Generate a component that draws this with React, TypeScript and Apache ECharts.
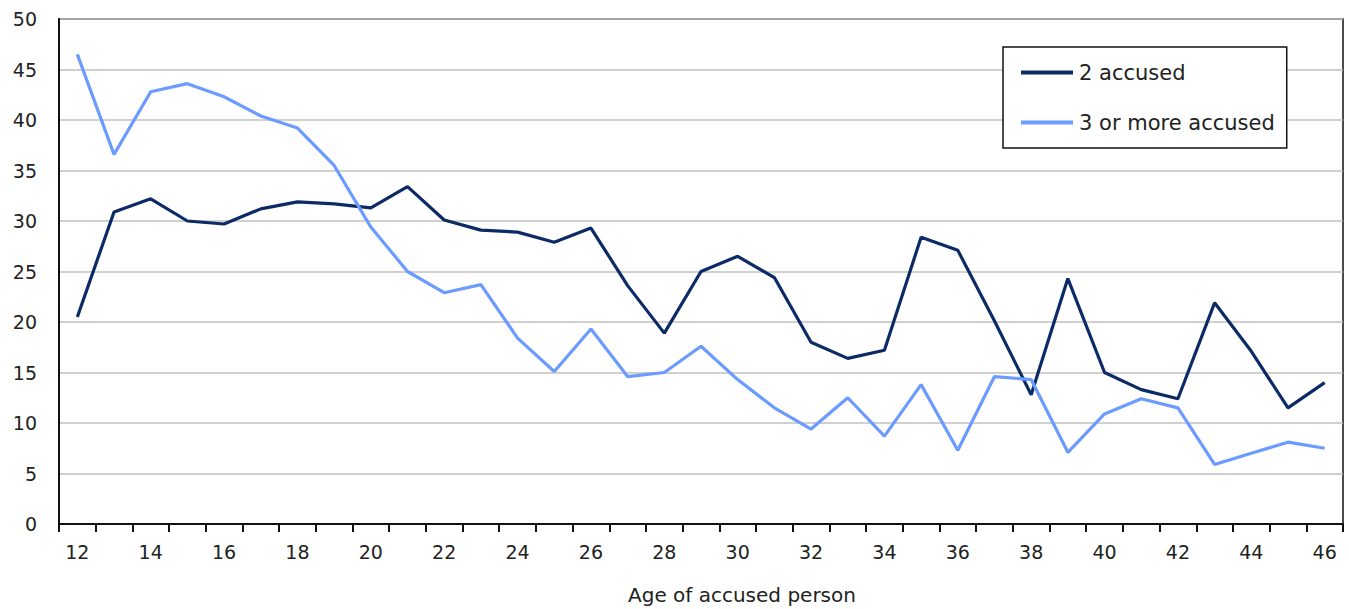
import React, { useEffect, useRef } from "react";
import * as echarts from "echarts";

const ages: string[] = [
  "12","13","14","15","16","17","18","19","20","21","22","23","24","25","26","27","28",
  "29","30","31","32","33","34","35","36","37","38","39","40","41","42","43","44","45","46",
];

const twoAccused: number[] = [
  20.5, 30.9, 32.2, 30.0, 29.7, 31.2, 31.9, 31.7, 31.3, 33.4, 30.1, 29.1, 28.9, 27.9, 29.3,
  23.6, 18.9, 25.0, 26.5, 24.4, 18.0, 16.4, 17.2, 28.4, 27.1, 20.1, 12.8, 24.3, 15.0, 13.3,
  12.4, 21.9, 17.1, 11.5, 14.0,
];

const threeOrMore: number[] = [
  46.5, 36.6, 42.8, 43.6, 42.3, 40.4, 39.2, 35.5, 29.4, 25.0, 22.9, 23.7, 18.4, 15.1, 19.3,
  14.6, 15.0, 17.6, 14.3, 11.5, 9.4, 12.5, 8.7, 13.8, 7.3, 14.6, 14.3, 7.1, 10.9, 12.4,
  11.5, 5.9, 7.0, 8.1, 7.5,
];

const seriesNames: string[] = ["2 accused", "3 or more accused"];
const xAxisTitle = "Age of accused person";

const FONT = "'DejaVu Sans', Verdana, sans-serif";
const TEXT = "#222222";

export default function App() {
  const ref = useRef<HTMLDivElement>(null);

  useEffect(() => {
    if (!ref.current) return;
    const chart = echarts.init(ref.current, undefined, { renderer: "svg" });
    chart.setOption({
      animation: false,
      backgroundColor: "#ffffff",
      textStyle: { fontFamily: FONT, color: TEXT },
      grid: {
        left: 59,
        right: 6,
        top: 19,
        bottom: 85,
        show: true,
        borderColor: "#111111",
        borderWidth: 1.5,
        backgroundColor: "transparent",
      },
      legend: {
        show: true,
        orient: "vertical",
        left: 1003,
        top: 47,
        padding: [15, 12, 15, 18],
        itemGap: 29,
        itemWidth: 52,
        itemHeight: 4,
        icon: "rect",
        borderColor: "#111111",
        borderWidth: 1.5,
        backgroundColor: "#ffffff",
        textStyle: { fontFamily: FONT, fontSize: 21, color: TEXT, padding: [0, 0, 0, 1] },
        data: seriesNames,
      },
      xAxis: {
        type: "category",
        data: ages,
        boundaryGap: true,
        axisLine: { show: true, lineStyle: { color: "#111111", width: 2 } },
        axisTick: { show: true, interval: 0, length: 8, lineStyle: { color: "#111111", width: 2 } },
        axisLabel: {
          interval: 1,
          margin: 18,
          fontFamily: FONT,
          fontSize: 19,
          color: TEXT,
        },
        splitLine: { show: false },
      },
      yAxis: {
        type: "value",
        min: 0,
        max: 50,
        interval: 5,
        axisLine: { show: true, lineStyle: { color: "#111111", width: 2 } },
        axisTick: { show: false },
        axisLabel: { margin: 22, fontFamily: FONT, fontSize: 19, color: TEXT },
        splitLine: { show: true, lineStyle: { color: "#c0c0c0", width: 1.5 } },
      },
      graphic: [
        {
          type: "text",
          left: 628,
          top: 585,
          style: { text: xAxisTitle, fontFamily: FONT, fontSize: 20, fill: TEXT },
        },
      ],
      series: [
        {
          name: seriesNames[0],
          type: "line",
          data: twoAccused,
          symbol: "none",
          lineStyle: { color: "#0b2a66", width: 3.2 },
          itemStyle: { color: "#0b2a66" },
        },
        {
          name: seriesNames[1],
          type: "line",
          data: threeOrMore,
          symbol: "none",
          lineStyle: { color: "#6b9bff", width: 3.2 },
          itemStyle: { color: "#6b9bff" },
        },
      ],
    });
    return () => chart.dispose();
  }, []);

  return (
    <div
      ref={ref}
      style={{ position: "fixed", left: 0, top: 0, width: 1349, height: 609 }}
    />
  );
}
